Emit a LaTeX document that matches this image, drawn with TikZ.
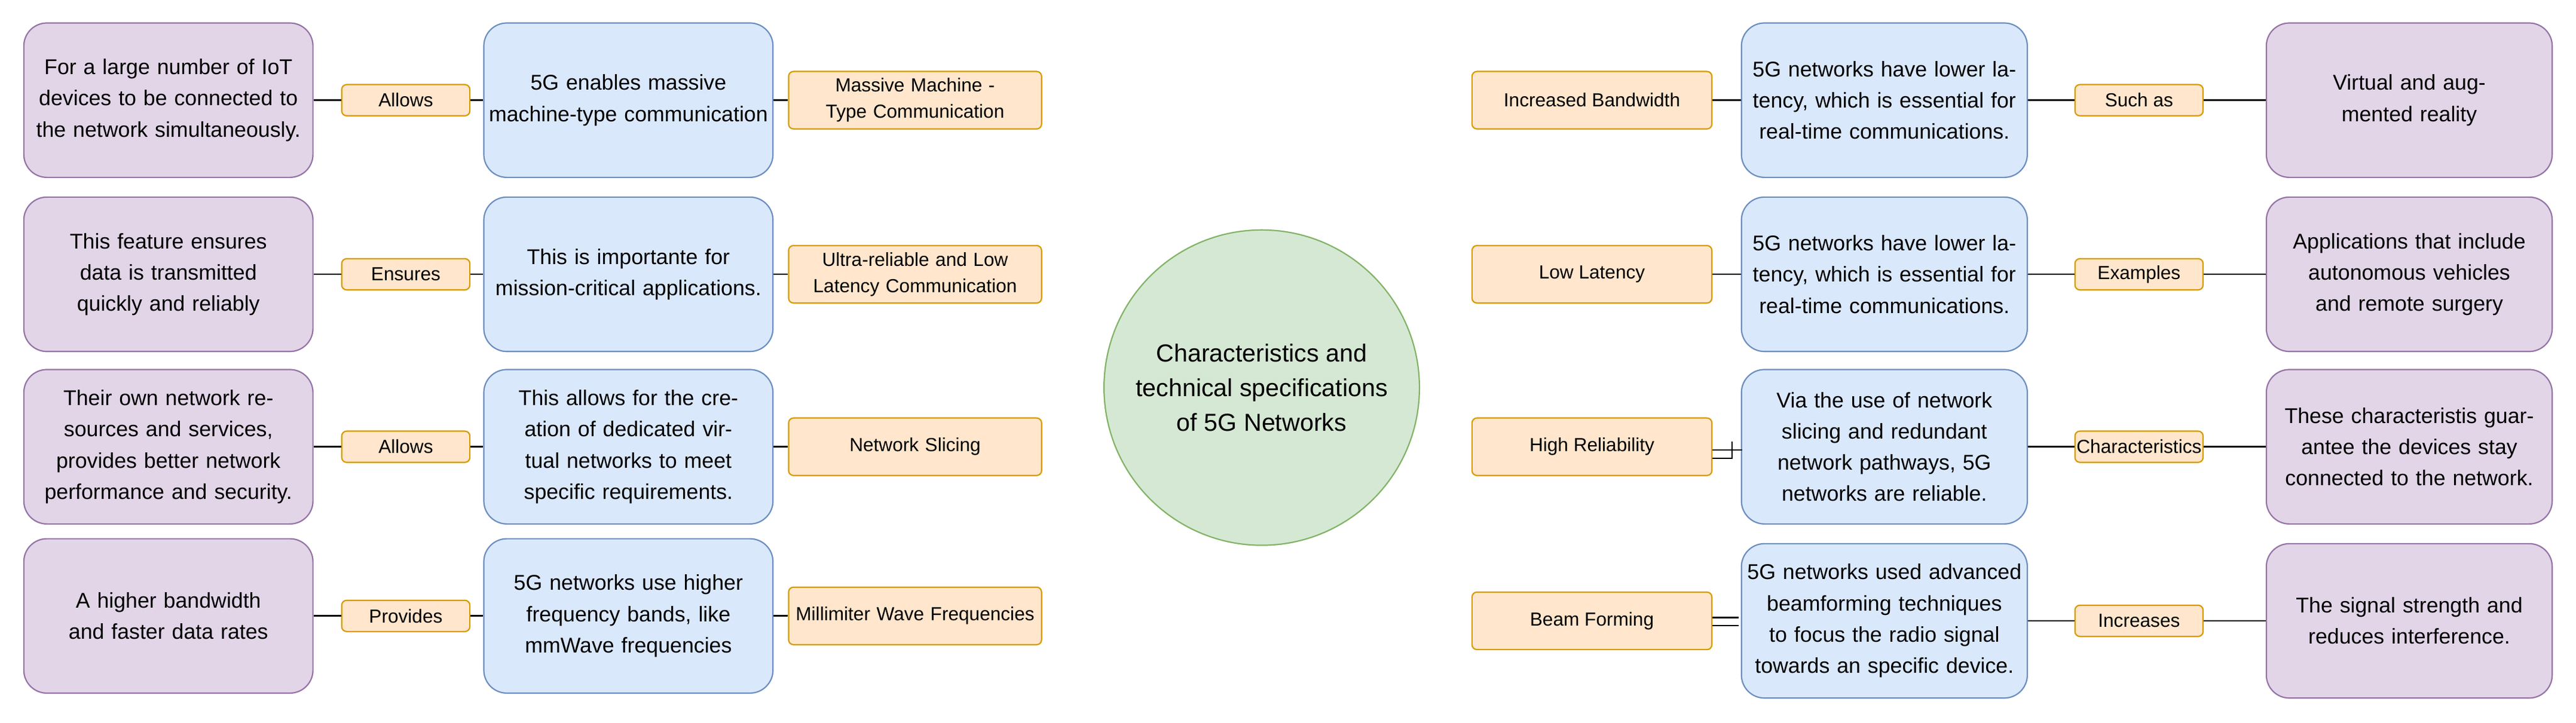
\documentclass[tikz,border=0pt]{standalone}
\usepackage{fontspec}
\setmainfont{Liberation Sans}
\begin{document}
\begin{tikzpicture}[x=1pt,y=-1pt,
  box/.style={draw, rounded corners=14pt, line width=0.8pt, align=center, inner sep=2pt, font=\fontsize{13}{19}\selectfont},
  pur/.style={box, fill=purf, draw=purd, minimum width=175pt, minimum height=94pt, text width=172pt},
  blu/.style={box, fill=bluf, draw=blud, minimum width=175pt, minimum height=94pt, text width=172pt},
  ora/.style={draw=orad, fill=oraf, rounded corners=3pt, line width=0.8pt, align=center, inner sep=1pt, font=\fontsize{11.5}{16}\selectfont},
  big/.style={ora, minimum width=154pt, minimum height=35pt, text width=152pt},
  lab/.style={ora, minimum width=78pt, minimum height=19pt},
  ln/.style={line width=1pt}]
\definecolor{purf}{HTML}{E1D5E7}\definecolor{purd}{HTML}{9673A6}
\definecolor{bluf}{HTML}{DAE8FC}\definecolor{blud}{HTML}{6C8EBF}
\definecolor{oraf}{HTML}{FFE6CC}\definecolor{orad}{HTML}{D79B00}
\definecolor{grnf}{HTML}{D5E8D4}\definecolor{grnd}{HTML}{82B366}
\useasboundingbox (0,0) rectangle (1568,440);
% left
\foreach \i/\y/\pt/\lt/\bt/\ot in {
 1/61/{For a large number of IoT devices to be connected to the network simultaneously.}/Allows/{5G enables massive machine-type communication}/{Massive Machine - Type Communication},
 2/167/{This feature ensures data is transmitted quickly and reliably}/Ensures/{This is importante for mission-critical applications.}/{Ultra-reliable and Low Latency Communication},
 3/272/{Their own network resources and services, provides better network performance and security.}/Allows/{This allows for the creation of dedicated virtual networks to meet specific requirements.}/{Network Slicing},
 4/375/{A higher bandwidth and faster data rates}/Provides/{5G networks use higher frequency bands, like mmWave frequencies}/{Millimiter Wave Frequencies}}{
 \node[pur] (lp\i) at (102.5,\y) {\pt};
 \node[lab] (ll\i) at (247,\y) {\lt};
 \node[blu] (lb\i) at (382.5,\y) {\bt};
 \node[big] (lo\i) at (557,\y) {\ot};
 \draw[ln] (lp\i) -- (ll\i) (ll\i) -- (lb\i) (lb\i) -- (lo\i);
}
\node[circle, draw=grnd, fill=grnf, line width=0.8pt, minimum size=192pt, align=center, font=\fontsize{15}{21}\selectfont] (c) at (768,236) {Characteristics and\\technical specifications\\of 5G Networks};
% right
\foreach \i/\y/\ot/\bt/\lt/\pt in {
 1/61/{Increased Bandwidth}/{5G networks have lower latency, which is essential for real-time communications.}/{Such as}/{Virtual and augmented reality},
 2/167/{Low Latency}/{5G networks have lower latency, which is essential for real-time communications.}/Examples/{Applications that include autonomous vehicles and remote surgery},
 3/272/{High Reliability}/{Via the use of network slicing and redundant network pathways, 5G networks are reliable.}/Characteristics/{These characteristis guarantee the devices stay connected to the network.},
 4/378/{Beam Forming}/{5G networks used advanced beamforming techniques to focus the radio signal towards an specific device.}/Increases/{The signal strength and reduces interference.}}{
 \node[ora, minimum width=146pt, minimum height=35pt] (ro\i) at (969,\y) {\ot};
 \node[blu, minimum width=174pt, text width=170pt] (rb\i) at (1147,\y) {\bt};
 \node[lab, inner sep=0pt] (rl\i) at (1302,\y) {\lt};
 \node[pur, minimum width=173pt, text width=170pt] (rp\i) at (1466.5,\y) {\pt};
 \draw[ln] (rb\i) -- (rl\i) (rl\i) -- (rp\i);
}
\draw[ln] (ro1) -- (rb1);
\draw[ln] (ro2) -- (rb2);
\draw[line width=0.8pt] (ro3.east) ++(0,2) -- ++(18,0) (ro3.east) ++(0,7) -- ++(12,0) -- ++(0,-10);
\draw[line width=0.8pt] (ro4.east) ++(0,-2) -- ++(16,0) (ro4.east) ++(0,3) -- ++(16,0);
\end{tikzpicture}
\end{document}
